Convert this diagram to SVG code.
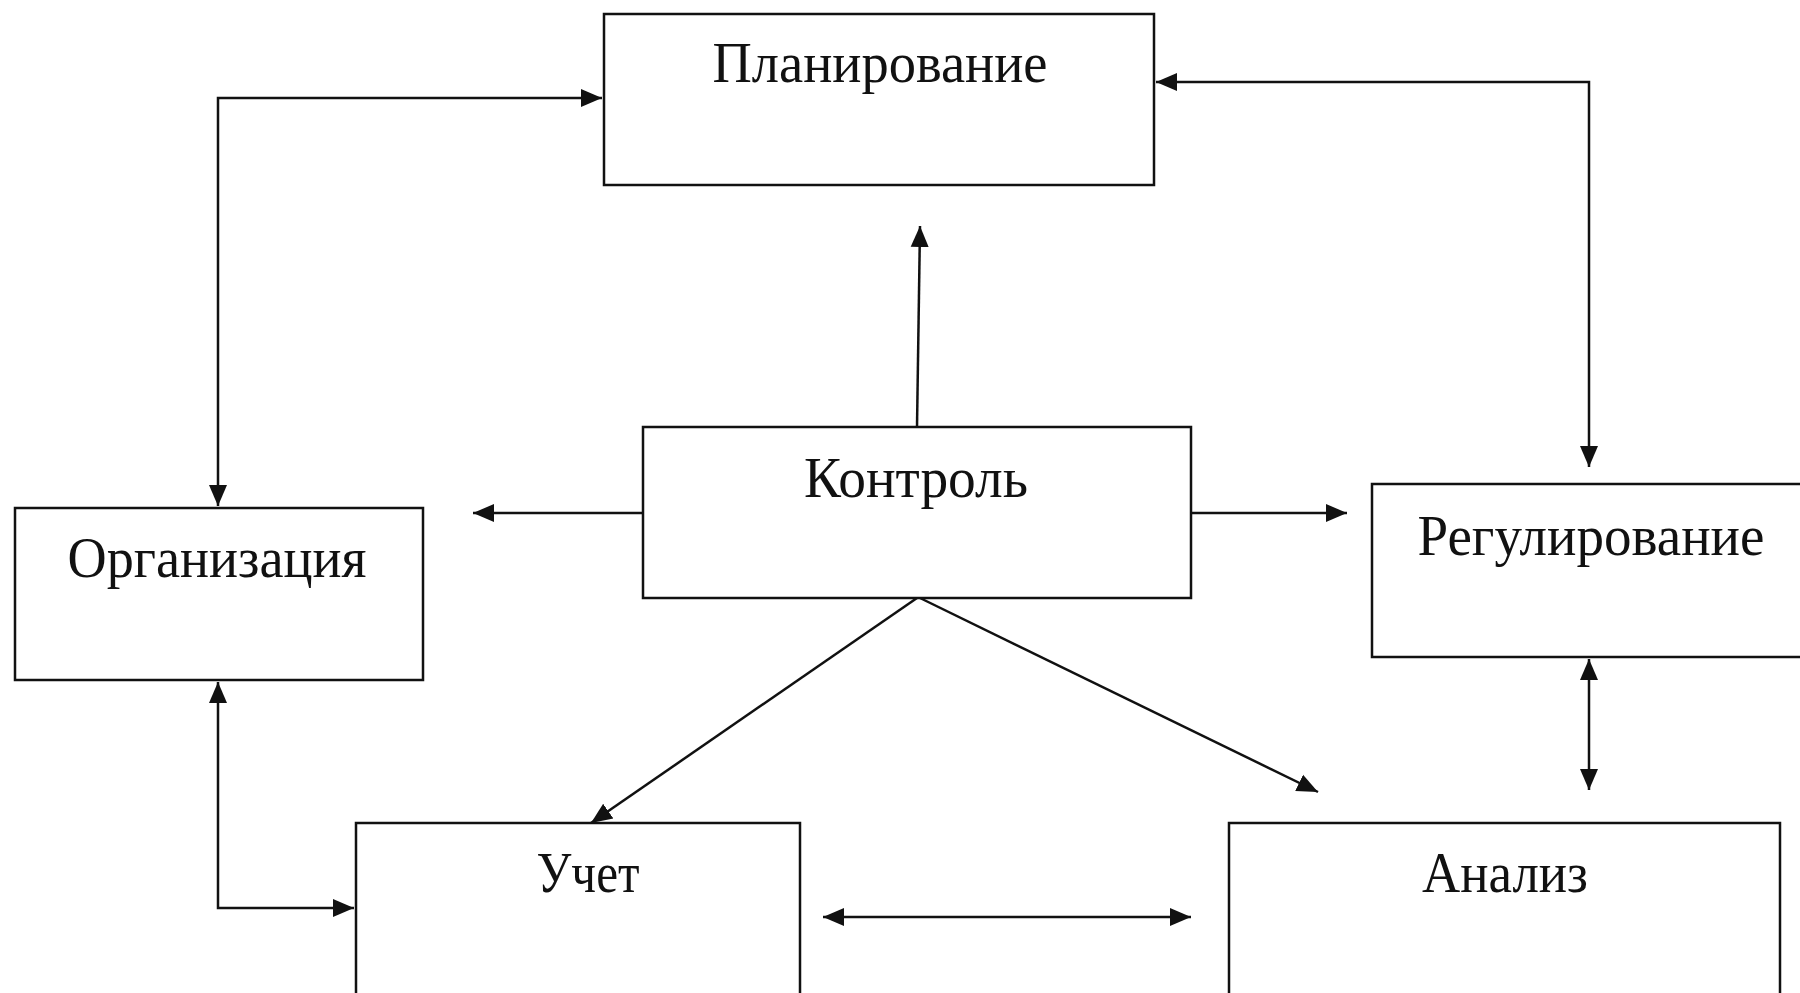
<svg xmlns="http://www.w3.org/2000/svg" width="1800" height="993" viewBox="0 0 1800 993">
<style>
.box{fill:#fff;stroke:#111;stroke-width:2.5}
.lbl{font-family:"Liberation Serif","Times New Roman",serif;font-size:56px;fill:#111;text-anchor:middle}
.c{fill:none;stroke:#111;stroke-width:2.5}
</style>
<defs>
<marker id="ah" markerUnits="userSpaceOnUse" markerWidth="22" markerHeight="20" viewBox="0 0 22 20" refX="21" refY="10" orient="auto-start-reverse">
<path d="M0,1 L21,10 L0,19 z" fill="#111"/>
</marker>
</defs>
<rect width="1800" height="993" fill="#fff"/>
<g id="connectors">
<polyline class="c" points="218,506 218,98 602,98" marker-start="url(#ah)" marker-end="url(#ah)"/>
<polyline class="c" points="1156,82 1589,82 1589,467" marker-start="url(#ah)" marker-end="url(#ah)"/>
<line class="c" x1="917" y1="427" x2="920" y2="226" marker-end="url(#ah)"/>
<line class="c" x1="642" y1="513" x2="473" y2="513" marker-end="url(#ah)"/>
<line class="c" x1="1191" y1="513" x2="1347" y2="513" marker-end="url(#ah)"/>
<line class="c" x1="917" y1="598" x2="591" y2="823" marker-end="url(#ah)"/>
<line class="c" x1="920" y1="598" x2="1318" y2="792" marker-end="url(#ah)"/>
<line class="c" x1="1589" y1="659" x2="1589" y2="790" marker-start="url(#ah)" marker-end="url(#ah)"/>
<polyline class="c" points="218,682 218,908 354,908" marker-start="url(#ah)" marker-end="url(#ah)"/>
<line class="c" x1="823" y1="917" x2="1191" y2="917" marker-start="url(#ah)" marker-end="url(#ah)"/>
</g>
<g id="planning">
<rect class="box" x="604" y="14" width="550" height="171"/>
<text class="lbl" x="880" y="82" textLength="335" lengthAdjust="spacingAndGlyphs">Планирование</text>
</g>
<g id="organization">
<rect class="box" x="15" y="508" width="408" height="172"/>
<text class="lbl" x="217" y="577" textLength="299" lengthAdjust="spacingAndGlyphs">Организация</text>
</g>
<g id="control">
<rect class="box" x="643" y="427" width="548" height="171"/>
<text class="lbl" x="916" y="497" textLength="224" lengthAdjust="spacingAndGlyphs">Контроль</text>
</g>
<g id="regulation">
<rect class="box" x="1372" y="484" width="440" height="173"/>
<text class="lbl" x="1591" y="555" textLength="347" lengthAdjust="spacingAndGlyphs">Регулирование</text>
</g>
<g id="uchet">
<rect class="box" x="356" y="823" width="444" height="190"/>
<text class="lbl" x="588" y="892" textLength="103" lengthAdjust="spacingAndGlyphs">Учет</text>
</g>
<g id="analiz">
<rect class="box" x="1229" y="823" width="551" height="190"/>
<text class="lbl" x="1505" y="892" textLength="166" lengthAdjust="spacingAndGlyphs">Анализ</text>
</g>
</svg>
